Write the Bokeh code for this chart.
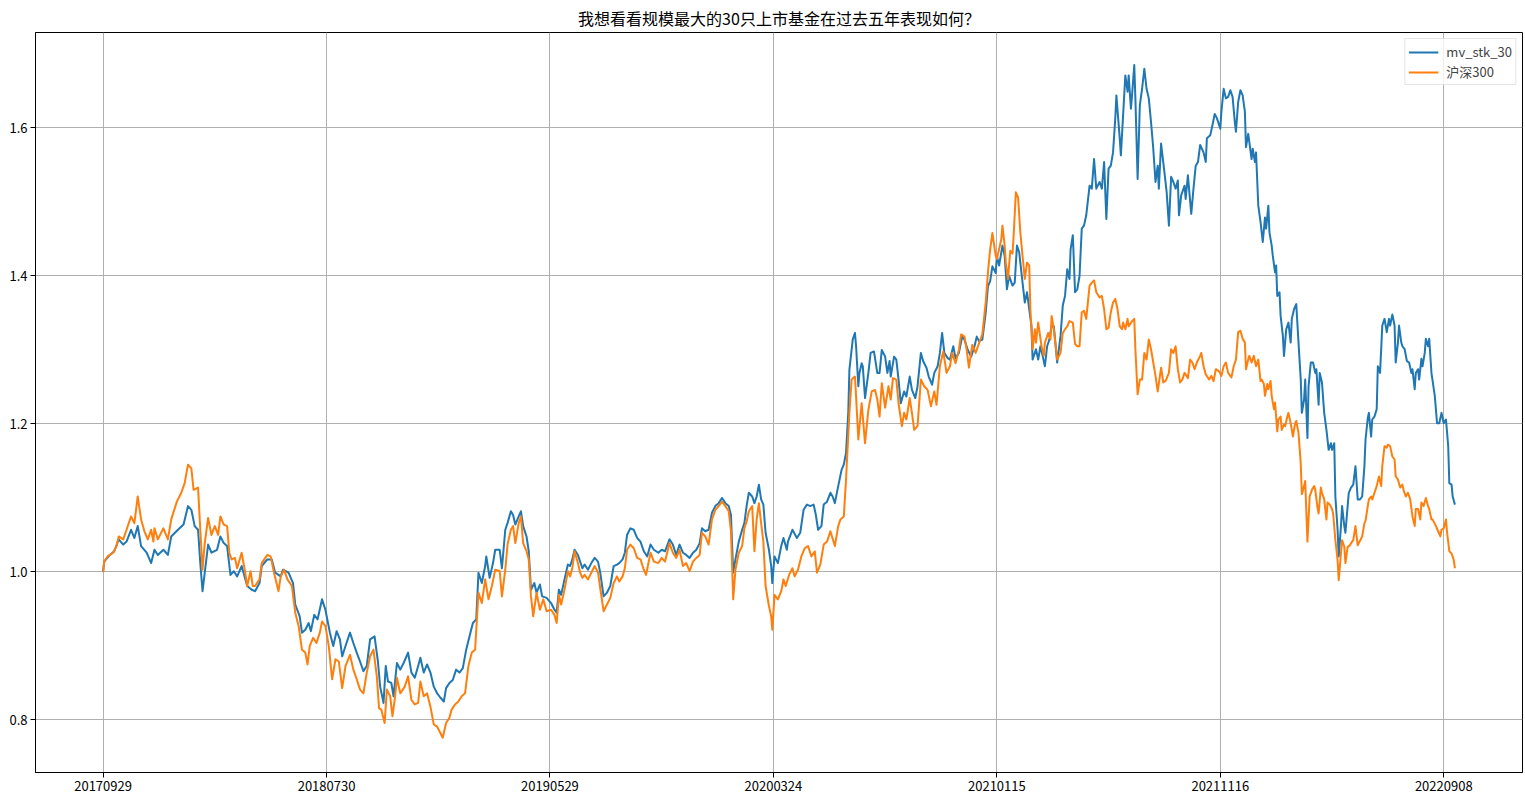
from bokeh.plotting import figure
from bokeh.models import Range1d, FixedTicker, Legend, LegendItem, PrintfTickFormatter
from bokeh.embed import file_html
from bokeh.resources import INLINE

title_text = "我想看看规模最大的30只上市基金在过去五年表现如何？"
series_names = ["mv_stk_30", "沪深300"]
tick_index = [0, 200, 400, 600, 800, 1000, 1200]
tick_dates = ["20170929", "20180730", "20190529", "20200324", "20210115", "20211116", "20220908"]
y_ticks = [0.8, 1.0, 1.2, 1.4, 1.6]

# trading-day index and net value of mv_stk_30
mv_idx = [0,1,6,10,14,18,21,25,28,31,34,39,43,46,49,54,58,61,67,72,76,79,82,85,87,89,91,94,97,102,105,108,111,114,117,120,124,129,133,136,140,142,147,151,154,159,161,166,170,172,176,178,181,184,186,189,192,196,199,
          203,206,208,209,212,214,217,221,224,227,230,233,236,239,243,246,248,251,253,255,258,260,263,266,269,273,276,279,282,284,287,290,293,296,299,302,305,307,310,313,316,319,322,325,328,331,334,336,339,342,343,346,349,351,355,357,360,362,365,367,369,372,374,376,379,381,383,386,388,391,393,397,
          401,404,406,408,410,413,416,418,420,422,425,427,429,431,434,437,440,443,445,448,451,454,457,460,462,465,467,469,472,475,478,481,484,487,490,493,497,500,503,507,510,513,516,519,522,525,528,531,534,536,539,542,545,548,551,554,557,560,562,564,566,569,572,574,576,578,581,583,585,587,589,591,593,596,598,599,
          601,604,607,609,612,613,617,621,624,627,630,633,636,638,640,643,645,648,651,653,655,658,661,663,665,667,668,671,673,674,676,677,679,680,682,685,687,690,693,695,697,700,702,704,705,708,710,712,714,717,719,722,724,727,729,732,734,737,739,742,744,747,749,751,753,756,758,761,763,766,769,771,774,777,780,782,784,787,790,792,794,796,799,
          800,802,805,807,809,811,814,816,818,820,823,825,827,829,831,832,835,837,839,841,843,845,847,849,851,854,857,859,861,863,865,866,868,870,872,874,876,878,880,883,885,887,889,892,894,896,898,900,902,904,906,907,910,911,913,915,917,918,920,921,923,924,926,928,930,932,934,936,938,940,942,944,945,947,950,952,954,956,958,960,962,963,965,968,969,971,974,976,978,980,982,985,987,988,991,993,995,997,1000,
          1001,1003,1005,1007,1009,1011,1013,1014,1016,1018,1020,1022,1023,1025,1026,1028,1029,1031,1032,1034,1036,1038,1040,1041,1043,1044,1046,1047,1049,1050,1051,1053,1054,1056,1057,1059,1061,1063,1064,1066,1068,1070,1072,1073,1075,1076,1078,1079,1081,1083,1085,1086,1088,1089,1091,1093,1095,1097,1099,1100,1102,1103,1105,1106,1108,1109,1111,1112,1115,1117,1119,1121,1123,1125,1127,1129,1130,1132,1133,1135,1136,1138,1140,1141,1143,1145,1147,1149,1151,1152,1154,1156,1157,1159,1160,1162,1163,1165,1167,1169,1171,1172,1174,1175,1177,1178,1180,1181,1183,1184,1186,1187,1189,1192,1194,1196,1198,1200,1202,1204,1205,1207,1208,1210]
mv_val = [1.000,1.014,1.023,1.028,1.044,1.037,1.041,1.057,1.046,1.062,1.035,1.026,1.012,1.030,1.023,1.030,1.023,1.048,1.057,1.064,1.089,1.084,1.062,1.057,1.012,0.974,0.999,1.037,1.026,1.030,1.048,1.039,1.035,0.996,1.001,0.994,1.008,0.981,0.976,0.974,0.985,1.008,1.017,1.017,0.999,0.994,1.003,0.999,0.985,0.956,0.940,0.918,0.922,0.931,0.920,0.942,0.936,0.963,0.949,
          0.918,0.900,0.913,0.920,0.909,0.886,0.900,0.918,0.904,0.891,0.879,0.866,0.873,0.909,0.913,0.879,0.845,0.823,0.873,0.852,0.850,0.832,0.877,0.868,0.877,0.891,0.864,0.857,0.873,0.884,0.864,0.875,0.864,0.845,0.836,0.830,0.825,0.843,0.850,0.854,0.868,0.864,0.870,0.895,0.913,0.931,0.936,0.999,0.985,1.008,1.021,0.992,1.012,1.030,1.030,1.005,1.057,1.066,1.082,1.077,1.064,1.075,1.082,1.062,1.048,1.028,0.976,0.985,0.972,0.983,0.967,0.965,
          0.958,0.949,0.945,0.976,0.969,0.990,1.010,1.008,1.017,1.030,1.023,1.014,1.005,1.010,1.003,1.012,1.019,1.014,0.999,0.967,0.972,0.981,1.008,1.010,1.012,1.017,1.026,1.050,1.059,1.057,1.046,1.041,1.028,1.021,1.037,1.030,1.026,1.030,1.028,1.044,1.037,1.023,1.037,1.026,1.023,1.019,1.026,1.030,1.039,1.059,1.055,1.057,1.080,1.089,1.093,1.100,1.093,1.089,1.077,0.999,1.017,1.041,1.057,1.066,1.089,1.107,1.102,1.093,1.102,1.118,1.098,1.091,1.053,1.030,1.008,0.985,
          1.021,1.012,1.035,1.046,1.030,1.041,1.057,1.046,1.053,1.084,1.091,1.089,1.091,1.077,1.057,1.062,1.091,1.095,1.107,1.102,1.093,1.116,1.138,1.145,1.161,1.215,1.273,1.314,1.323,1.305,1.251,1.269,1.282,1.278,1.235,1.269,1.296,1.298,1.269,1.269,1.300,1.291,1.269,1.285,1.264,1.291,1.287,1.260,1.228,1.244,1.237,1.264,1.246,1.235,1.251,1.296,1.285,1.276,1.264,1.253,1.269,1.278,1.296,1.323,1.296,1.289,1.287,1.305,1.289,1.296,1.318,1.314,1.300,1.291,1.305,1.318,1.312,1.314,1.350,1.386,1.393,1.413,1.404,
          1.427,1.414,1.441,1.427,1.382,1.400,1.387,1.391,1.441,1.432,1.391,1.364,1.378,1.355,1.332,1.287,1.301,1.287,1.305,1.292,1.278,1.305,1.314,1.332,1.332,1.283,1.319,1.360,1.373,1.409,1.396,1.436,1.455,1.378,1.382,1.400,1.464,1.468,1.482,1.522,1.518,1.558,1.518,1.527,1.518,1.554,1.477,1.545,1.549,1.567,1.613,1.644,1.586,1.563,1.617,1.671,1.649,1.671,1.626,1.644,1.685,1.640,1.531,1.631,1.653,1.680,1.653,1.640,1.608,1.572,1.527,1.549,1.518,1.579,1.540,1.513,1.468,1.534,1.527,1.518,1.529,1.482,1.509,1.522,1.504,1.536,1.484,1.518,1.549,1.554,1.577,1.567,1.554,1.586,1.590,1.604,1.619,1.613,1.599,
          1.622,1.653,1.640,1.642,1.651,1.642,1.608,1.595,1.635,1.651,1.644,1.622,1.574,1.592,1.581,1.558,1.572,1.554,1.567,1.495,1.473,1.446,1.479,1.464,1.495,1.459,1.441,1.427,1.405,1.414,1.373,1.378,1.346,1.319,1.292,1.328,1.337,1.310,1.342,1.355,1.362,1.310,1.260,1.215,1.233,1.260,1.181,1.251,1.283,1.283,1.269,1.274,1.226,1.269,1.256,1.215,1.192,1.165,1.174,1.165,1.174,1.102,1.057,1.021,1.062,1.089,1.062,1.053,1.107,1.114,1.118,1.143,1.098,1.098,1.102,1.143,1.179,1.208,1.215,1.183,1.206,1.210,1.220,1.278,1.269,1.333,1.342,1.324,1.342,1.333,1.348,1.333,1.283,1.310,1.333,1.310,1.305,1.301,1.285,1.283,1.269,1.274,1.247,1.269,1.274,1.260,1.288,1.278,1.296,1.315,1.305,1.315,1.269,1.238,1.201,1.201,1.215,1.201,1.206,1.170,1.120,1.118,1.102,1.091]

# trading-day index and net value of 沪深300
hs_idx = [0,1,4,9,12,14,18,21,25,28,31,34,37,40,43,45,46,49,54,58,61,66,70,73,76,79,81,85,87,89,91,94,97,100,103,105,108,111,113,115,118,120,124,127,129,132,134,136,140,142,147,150,153,157,159,162,165,169,172,175,178,181,183,185,188,191,194,196,199,
          202,205,208,211,214,217,221,224,227,230,233,236,239,242,245,247,249,252,254,257,259,261,263,266,270,273,276,279,282,284,287,290,293,296,299,302,304,307,310,312,315,318,321,324,327,330,333,336,339,342,345,348,351,355,357,360,362,365,367,369,372,374,376,379,381,383,385,388,391,394,397,
          401,404,406,408,410,413,416,418,420,422,425,427,429,431,434,437,440,443,445,448,451,454,457,460,462,465,467,469,472,475,478,481,484,486,490,493,497,500,503,507,510,513,516,519,522,525,528,531,534,536,539,542,545,548,551,554,557,560,562,564,566,569,572,574,576,578,581,583,585,587,589,591,593,596,598,599,
          601,604,607,609,611,614,617,619,622,625,628,631,634,637,639,642,645,648,651,655,658,660,663,665,668,670,673,674,676,679,682,685,688,691,693,695,697,700,703,705,707,710,712,715,717,719,722,724,726,729,732,735,738,741,744,746,749,752,755,758,760,763,766,768,771,773,775,778,781,784,787,790,792,794,796,799,
          800,802,804,805,807,808,810,812,814,815,817,819,821,823,825,827,829,830,832,834,835,837,840,842,843,846,848,849,851,853,854,857,859,861,863,865,868,870,872,874,876,878,880,883,885,887,889,892,894,896,898,900,902,904,906,908,910,912,913,915,917,918,921,923,924,926,928,930,932,934,936,938,940,942,944,947,949,951,954,956,958,960,962,964,966,968,971,973,975,977,979,982,983,985,987,990,992,994,996,999,
          1001,1003,1005,1007,1010,1012,1014,1016,1018,1020,1022,1023,1025,1026,1028,1030,1032,1034,1036,1037,1039,1040,1042,1043,1045,1046,1048,1049,1051,1052,1054,1055,1057,1058,1060,1061,1063,1065,1067,1068,1070,1072,1073,1075,1076,1078,1080,1082,1084,1085,1087,1088,1090,1091,1093,1095,1096,1098,1100,1101,1103,1105,1106,1108,1109,1111,1112,1114,1116,1118,1119,1121,1123,1124,1127,1129,1130,1132,1133,1135,1136,1138,1140,1142,1144,1145,1147,1149,1150,1152,1154,1156,1157,1159,1161,1163,1164,1166,1168,1170,1172,1174,1175,1177,1179,1180,1182,1184,1186,1187,1189,1190,1193,1195,1197,1198,1200,1202,1203,1205,1207,1209,1210]
hs_val = [1.000,1.014,1.021,1.026,1.035,1.048,1.044,1.057,1.075,1.066,1.102,1.071,1.055,1.044,1.057,1.041,1.059,1.044,1.059,1.044,1.071,1.095,1.107,1.120,1.145,1.140,1.111,1.114,1.057,1.003,1.039,1.073,1.050,1.062,1.050,1.075,1.064,1.062,1.026,1.017,1.019,1.005,1.026,1.001,0.981,1.001,0.981,0.981,0.990,1.012,1.023,1.021,0.999,0.974,0.994,1.003,0.990,0.981,0.945,0.927,0.895,0.891,0.875,0.900,0.911,0.904,0.918,0.933,0.927,
          0.900,0.855,0.882,0.879,0.843,0.873,0.888,0.868,0.855,0.841,0.836,0.864,0.886,0.895,0.859,0.816,0.814,0.796,0.841,0.832,0.805,0.827,0.857,0.836,0.845,0.859,0.827,0.821,0.823,0.852,0.832,0.836,0.818,0.794,0.791,0.782,0.776,0.796,0.803,0.814,0.821,0.825,0.832,0.836,0.873,0.891,0.895,0.972,0.958,0.990,0.963,0.981,1.003,1.001,0.967,1.003,1.037,1.057,1.062,1.039,1.066,1.075,1.039,1.028,1.017,0.967,0.940,0.972,0.949,0.963,0.947,
          0.949,0.942,0.931,0.969,0.956,0.976,1.001,0.994,1.005,1.028,1.012,0.999,0.992,0.996,0.990,0.999,1.008,0.999,0.978,0.947,0.956,0.965,0.985,0.994,0.987,0.994,1.005,1.030,1.037,1.032,1.019,1.017,1.003,0.996,1.026,1.014,1.012,1.019,1.014,1.039,1.026,1.019,1.030,1.008,1.012,1.001,1.014,1.019,1.023,1.053,1.048,1.037,1.071,1.084,1.089,1.095,1.089,1.082,1.055,0.963,1.003,1.026,1.035,1.059,1.068,1.082,1.089,1.028,1.071,1.093,1.066,1.041,0.981,0.954,0.940,0.922,
          0.969,0.963,0.974,0.990,0.981,0.996,1.005,0.994,1.003,1.021,1.032,1.035,1.021,1.028,0.999,1.010,1.037,1.041,1.055,1.035,1.062,1.071,1.075,1.125,1.215,1.260,1.264,1.237,1.179,1.228,1.174,1.219,1.244,1.246,1.233,1.210,1.255,1.222,1.251,1.233,1.262,1.260,1.228,1.197,1.215,1.206,1.235,1.215,1.192,1.197,1.260,1.251,1.246,1.224,1.244,1.226,1.278,1.298,1.269,1.278,1.296,1.282,1.300,1.321,1.318,1.300,1.276,1.307,1.296,1.309,1.321,1.364,1.404,1.436,1.458,1.427,
          1.423,1.436,1.450,1.468,1.441,1.418,1.396,1.434,1.430,1.454,1.513,1.506,1.459,1.427,1.396,1.418,1.414,1.355,1.301,1.328,1.310,1.337,1.305,1.292,1.310,1.323,1.314,1.346,1.328,1.301,1.287,1.296,1.323,1.328,1.332,1.339,1.337,1.308,1.305,1.305,1.351,1.353,1.342,1.387,1.391,1.394,1.378,1.371,1.373,1.355,1.328,1.330,1.351,1.364,1.369,1.355,1.332,1.328,1.337,1.328,1.342,1.332,1.339,1.342,1.301,1.240,1.260,1.260,1.296,1.287,1.314,1.301,1.283,1.265,1.244,1.276,1.256,1.258,1.269,1.301,1.296,1.305,1.274,1.256,1.260,1.269,1.262,1.287,1.283,1.274,1.283,1.292,1.296,1.278,1.267,1.260,1.265,1.258,1.274,1.271,
          1.265,1.278,1.283,1.269,1.263,1.278,1.287,1.324,1.326,1.315,1.310,1.274,1.287,1.292,1.283,1.292,1.278,1.287,1.258,1.260,1.254,1.238,1.254,1.247,1.258,1.238,1.220,1.229,1.190,1.206,1.210,1.192,1.199,1.197,1.210,1.215,1.201,1.183,1.201,1.204,1.188,1.147,1.105,1.116,1.123,1.041,1.102,1.111,1.116,1.111,1.087,1.079,1.114,1.107,1.098,1.071,1.094,1.091,1.085,1.079,1.043,1.016,0.989,1.025,1.043,1.034,1.012,1.034,1.036,1.041,1.043,1.062,1.036,1.039,1.048,1.066,1.069,1.089,1.098,1.102,1.098,1.107,1.116,1.129,1.116,1.143,1.170,1.168,1.172,1.170,1.156,1.152,1.129,1.125,1.114,1.118,1.111,1.102,1.107,1.098,1.075,1.062,1.085,1.085,1.071,1.094,1.089,1.100,1.089,1.085,1.071,1.071,1.062,1.055,1.048,1.057,1.059,1.071,1.053,1.028,1.025,1.016,1.005]

FONT = "Noto Sans CJK SC"

p = figure(frame_width=1487, frame_height=740, output_backend="svg", toolbar_location=None,
           x_range=Range1d(-60.5, 1270.5), y_range=Range1d(0.729, 1.729),
           title=title_text, min_border_left=35, min_border_right=2,
           min_border_top=0, min_border_bottom=0)

p.title.align = "center"
p.title.text_font = FONT
p.title.text_font_size = "16px"
p.title.text_font_style = "normal"
p.title.text_color = "black"
p.title.standoff = 6

p.background_fill_color = "white"
p.border_fill_color = "white"
p.outline_line_color = "black"
p.outline_line_width = 1
p.outline_line_alpha = 1.0

p.xaxis.ticker = FixedTicker(ticks=tick_index)
p.xaxis.major_label_overrides = {t: lab for t, lab in zip(tick_index, tick_dates)}
p.yaxis.ticker = FixedTicker(ticks=y_ticks)
p.yaxis.formatter = PrintfTickFormatter(format="%.1f")
p.xgrid.ticker = FixedTicker(ticks=tick_index)
p.ygrid.ticker = FixedTicker(ticks=y_ticks)

for ax in (p.xaxis[0], p.yaxis[0]):
    ax.axis_line_color = "black"
    ax.major_tick_line_color = "black"
    ax.major_tick_out = 5
    ax.major_tick_in = 0
    ax.minor_tick_line_color = None
    ax.major_label_text_font = FONT
    ax.major_label_text_font_size = "13px"
    ax.major_label_text_color = "black"
    ax.major_label_standoff = 3

for g in (p.xgrid[0], p.ygrid[0]):
    g.grid_line_color = "#b0b0b0"
    g.grid_line_width = 1
    g.grid_line_alpha = 1.0

r_mv = p.line(mv_idx, mv_val, line_color="#1f77b4", line_width=2, line_join="round")
r_hs = p.line(hs_idx, hs_val, line_color="#ff7f0e", line_width=2, line_join="round")

legend = Legend(items=[LegendItem(label=series_names[0], renderers=[r_mv]),
                       LegendItem(label=series_names[1], renderers=[r_hs])],
                location="top_right")
legend.label_text_font = FONT
legend.label_text_font_size = "13px"
legend.label_height = 14
legend.glyph_width = 30
legend.glyph_height = 14
legend.label_standoff = 8
legend.spacing = 1
legend.padding = 3
legend.margin = 6
legend.border_line_color = "#cccccc"
legend.border_line_width = 1
legend.background_fill_alpha = 0.8
p.add_layout(legend)

open("out.html", "w").write(file_html(p, INLINE))
